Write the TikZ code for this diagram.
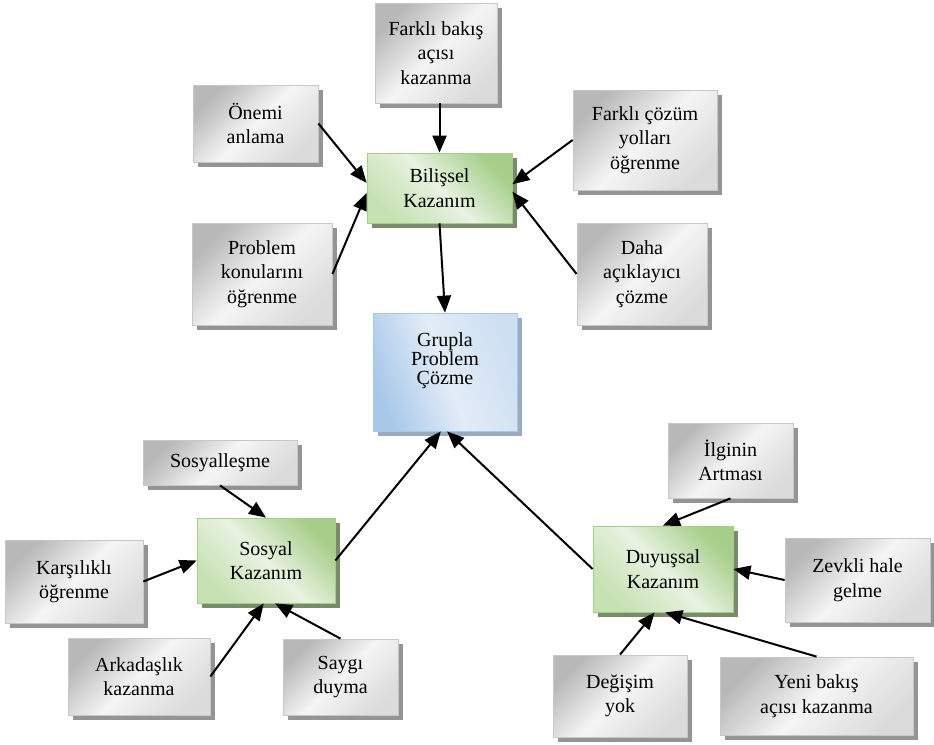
\documentclass[tikz,border=0pt]{standalone}
\usepackage{fontspec}
\setmainfont{Liberation Serif}
\usetikzlibrary{arrows.meta,shadows}
\definecolor{yesilk}{RGB}{166,206,138}
\definecolor{yesila}{RGB}{232,242,225}
\definecolor{yesilo}{RGB}{198,225,178}
\definecolor{mavik}{RGB}{168,200,234}
\definecolor{mavia}{RGB}{226,236,247}
\definecolor{mavio}{RGB}{206,223,242}
\begin{document}
\begin{tikzpicture}[x=1pt, y=-1pt,
    kutu/.style={align=center, line width=0.8pt, inner sep=2pt, font=\fontsize{20}{24.5}\selectfont},
    gri/.style={kutu, draw=black!22, left color=black!28, right color=black!14, middle color=black!4, shading angle=45,
      drop shadow={shadow xshift=5pt, shadow yshift=-5pt, fill=black!42, opacity=1}},
    yesil/.style={kutu, draw=yesilk, left color=yesilk, right color=yesilo, middle color=yesila, shading angle=-45,
      drop shadow={shadow xshift=5pt, shadow yshift=-5pt, fill=black!30!yesilk!70!gray, opacity=1}},
    mavi/.style={kutu, draw=mavik, left color=mavik, right color=mavio, middle color=mavia, shading angle=110,
      drop shadow={shadow xshift=5pt, shadow yshift=-5pt, fill=mavik!60!gray, opacity=1}},
    ok/.style={line width=2pt, -{Triangle[length=17pt, width=14pt]}}]
    \useasboundingbox (0,0) rectangle (934,744);
    \node[gri, minimum width=122pt, minimum height=100pt] (fbak) at (436,53) {Farklı bakış\\açısı\\kazanma};
    \node[gri, minimum width=125pt, minimum height=77pt] (onem) at (255.5,123.5) {Önemi\\anlama};
    \node[yesil, minimum width=145pt, minimum height=70pt] (bil) at (439.5,188) {Bilişsel\\Kazanım};
    \node[gri, minimum width=144pt, minimum height=100pt] (fcoz) at (645,140) {Farklı çözüm\\yolları\\öğrenme};
    \node[gri, minimum width=140pt, minimum height=102pt] (prob) at (262,274) {Problem\\konularını\\öğrenme};
    \node[gri, minimum width=130pt, minimum height=102pt] (daha) at (642,274) {Daha\\açıklayıcı\\çözme};
    \node[mavi, minimum width=144pt, minimum height=118pt, font=\fontsize{20}{19}\selectfont, text depth=26pt] (grupla) at (445,372) {Grupla\\Problem\\Çözme};
    \node[gri, minimum width=154pt, minimum height=45pt] (sosyalles) at (220,462.5) {Sosyalleşme};
    \node[yesil, minimum width=138pt, minimum height=85pt] (sosyal) at (266,560.5) {Sosyal\\Kazanım};
    \node[gri, minimum width=138pt, minimum height=83pt] (kars) at (74,581.5) {Karşılıklı\\öğrenme};
    \node[gri, minimum width=142pt, minimum height=77pt] (ark) at (139,676.5) {Arkadaşlık\\kazanma};
    \node[gri, minimum width=115pt, minimum height=76pt] (saygi) at (340.5,677) {Saygı\\duyma};
    \node[gri, minimum width=125pt, minimum height=75pt] (ilg) at (730.5,460.5) {İlginin\\Artması};
    \node[yesil, minimum width=140pt, minimum height=86pt] (duy) at (663,569) {Duyuşsal\\Kazanım};
    \node[gri, minimum width=145pt, minimum height=84pt] (zevk) at (857.5,580) {Zevkli hale\\gelme};
    \node[gri, minimum width=134pt, minimum height=82pt] (deg) at (620,696) {Değişim\\yok};
    \node[gri, minimum width=193pt, minimum height=78pt] (yeni) at (816.5,696) {Yeni bakış\\açısı kazanma};
    \draw[ok] (bil.north |- fbak.south) -- (bil.north);
    \draw[ok] (onem.east) -- (bil.176);
    \draw[ok] (prob.east) -- (bil.184);
    \draw[ok] (fcoz.west) -- (bil.3);
    \draw[ok] (daha.west) -- (bil.-3);
    \draw[ok] (bil.south) -- (grupla.north);
    \draw[ok] (sosyal.east) -- (grupla.266);
    \draw[ok] (duy.west) -- (grupla.272);
    \draw[ok] (sosyalles.south) -- (sosyal.north);
    \draw[ok] (kars.east) -- (sosyal.west);
    \draw[ok] (ark.east) -- (sosyal.267);
    \draw[ok] (saygi.north) -- (sosyal.282);
    \draw[ok] (ilg.south) -- (duy.north);
    \draw[ok] (zevk.west) -- (duy.east);
    \draw[ok] (deg.north) -- (duy.259);
    \draw[ok] (yeni.north) -- (duy.273);
\end{tikzpicture}
\end{document}
